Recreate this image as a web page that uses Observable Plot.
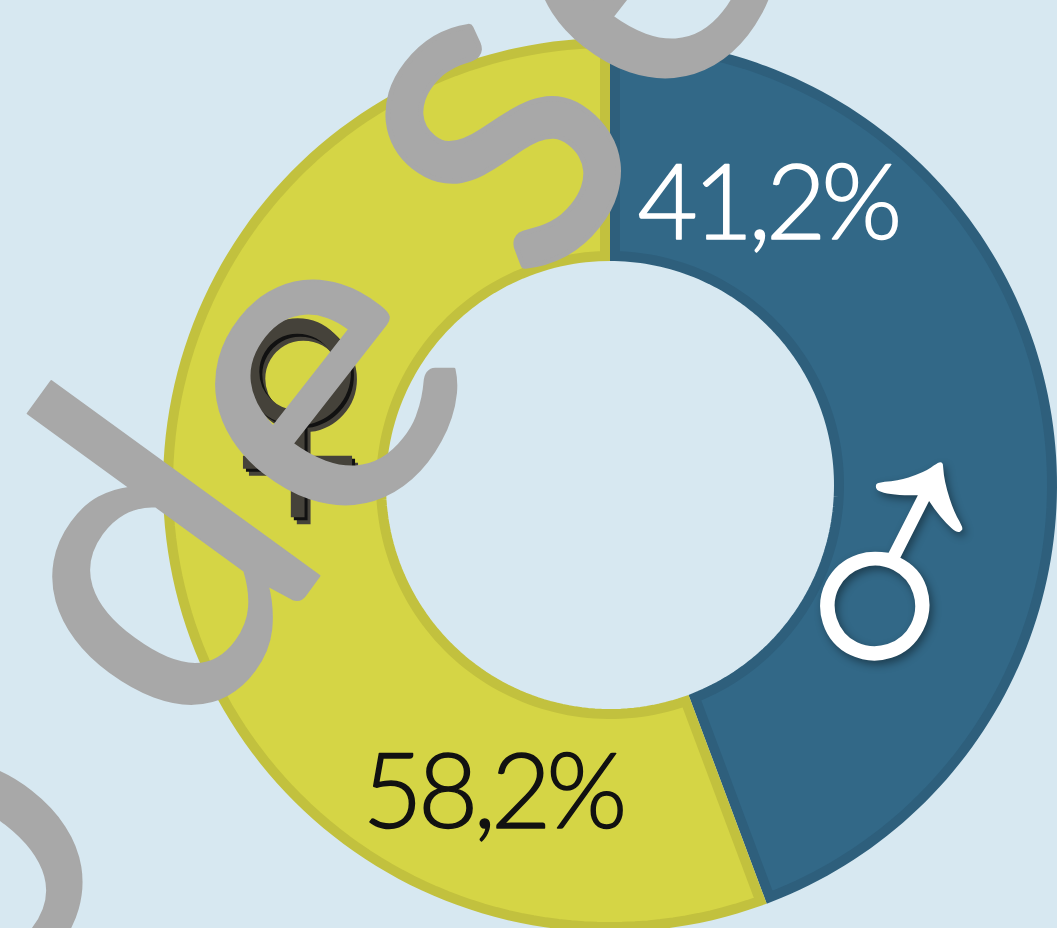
<!DOCTYPE html>
<html>
<head>
<meta charset="utf-8">
<script src="https://cdn.jsdelivr.net/npm/d3@7"></script>
<script src="https://cdn.jsdelivr.net/npm/@observablehq/plot@0.6"></script>
<style>
html,body{margin:0;padding:0;background:#d7e8f1;overflow:hidden}
svg{display:block}
</style>
</head>
<body>
<div id="chart"></div>
<script>
const categories = ["Hombres", "Mujeres"];
const sweepShares = [44.3, 55.7];
const valueLabels = ["41,2%", "58,2%"];
const symbols = ["♂", "♀"];
const fills = ["#326887", "#d5d545"];
const edges = ["#2e5f7c", "#c2c13e"];
const watermarkLetters = ["o", "d", "e", "S", "e"];

const W = 1057, H = 928, cx = 610, cy = 485, R = 447, r = 224, edge = 10;
const FONT = "Lato, 'Open Sans', sans-serif";

function ring(startShare, endShare) {
  const a0 = startShare / 100 * 2 * Math.PI, a1 = endShare / 100 * 2 * Math.PI;
  const ro = R - edge / 2, ri = r + edge / 2;
  return d3.range(121).map(i => {
    const t = i / 120;
    const ao = a0 + edge / 2 / ro + (a1 - a0 - edge / ro) * t;
    const ai = a0 + edge / 2 / ri + (a1 - a0 - edge / ri) * t;
    return {
      x1: cx + ro * Math.sin(ao), y1: cy - ro * Math.cos(ao),
      x2: cx + ri * Math.sin(ai), y2: cy - ri * Math.cos(ai)
    };
  });
}
let acc = 0;
const sliceMarks = categories.map((c, i) => {
  const s = acc; acc += sweepShares[i];
  return Plot.area(ring(s, acc), {
    x1: "x1", y1: "y1", x2: "x2", y2: "y2",
    fill: fills[i], stroke: edges[i], strokeWidth: edge, strokeLinejoin: "miter", strokeMiterlimit: 12, curve: "linear"
  });
});

const styled = props => (index, scales, values, dims, ctx, next) => {
  const g = next(index, scales, values, dims, ctx);
  Object.assign(g.style, props);
  return g;
};
const txt = (t, x, y, o) => Plot.text([t], {x: () => x, y: () => y, text: d => d, fontFamily: FONT, ...o});
const GREY = "#a8a8a8";
const big = (t, x, y, size, rotate, sw) => txt(t, x, y, {fontSize: size, fill: GREY, stroke: GREY, strokeWidth: sw, rotate});

const femaleLayers = [[6, 7, "#45423a"], [3, 3, "#111111"], [0, 0, "#45423a"]];
const serif = "'Liberation Serif','DejaVu Serif'";

const plot = Plot.plot({
  width: W, height: H,
  margin: 0,
  style: {background: "#d7e8f1", overflow: "hidden"},
  x: {domain: [0, W], range: [0, W], axis: null},
  y: {domain: [0, H], range: [0, H], axis: null},
  marks: [
    ...sliceMarks,
    txt(valueLabels[0], 767, 205, {fontSize: 104, fill: "#ffffff", stroke: "#ffffff", strokeWidth: 1.5, fontWeight: 300, render: styled({letterSpacing: "-5px"})}),
    txt(valueLabels[1], 492, 794, {fontSize: 104, fill: "#111111", stroke: "#111111", strokeWidth: 1.5, fontWeight: 300, render: styled({letterSpacing: "-5px"})}),
    ...femaleLayers.map(([dx, dy, col]) =>
      txt(symbols[1], 297 + dx, 410 + dy, {fontSize: 380, fill: col, fontFamily: serif})),
    txt(symbols[0], 893, 576, {fontSize: 388, fill: "#ffffff", fontFamily: serif, rotate: -18,
      render: styled({filter: "drop-shadow(3px 4px 4px rgba(0,0,0,.4))"})}),
    big(watermarkLetters[0], -60, 858, 450, -52, 2),
    big(watermarkLetters[1], 147, 567, 450, -54, 2),
    big(watermarkLetters[2], 305, 377, 450, -52, 3),
    big(watermarkLetters[3], 512, 152, 335, -52, 10),
    big(watermarkLetters[4], 625, -50, 450, -52, 3)
  ]
});
document.getElementById("chart").appendChild(plot);
</script>
</body>
</html>
